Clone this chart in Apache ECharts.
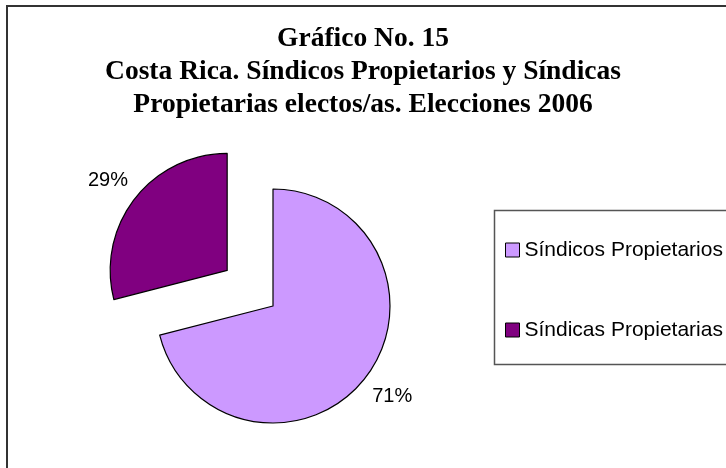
<!DOCTYPE html>
<html>
<head>
<meta charset="utf-8">
<title>Gráfico No. 15</title>
<script src="https://cdn.jsdelivr.net/npm/echarts@6/dist/echarts.min.js"></script>
<style>
    html, body { margin: 0; padding: 0; background: #fff; }
    #chart { width: 726px; height: 468px; }
</style>
</head>
<body>
<div id="chart"></div>
<script>
// datos del gráfico
var categorias = ['Síndicos Propietarios', 'Síndicas Propietarias'];
var valores = [71, 29];
var colores = ['#CC99FF', '#800080'];
var tituloLineas = [
    'Gráfico No. 15',
    'Costa Rica. Síndicos Propietarios y Síndicas',
    'Propietarias electos/as. Elecciones 2006'
];

var myChart = echarts.init(document.getElementById('chart'));

var datos = categorias.map(function (nombre, i) {
    return {
        name: nombre,
        value: valores[i],
        selected: i === 1,      // la porción de síndicas va separada
        itemStyle: { color: colores[i] }
    };
});

var option = {
    animation: false,
    title: {
        text: tituloLineas.join('\n'),
        left: 'center',
        top: 22,
        padding: 0,
        textStyle: {
            fontFamily: '"Liberation Serif", "Times New Roman", serif',
            fontWeight: 'bold',
            fontSize: 27.5,
            lineHeight: 33,
            color: '#000'
        }
    },
    // marco exterior y recuadro de la leyenda
    graphic: [
        {
            type: 'rect',
            shape: { x: 7, y: 6, width: 800, height: 600 },
            style: { fill: 'none', stroke: '#333', lineWidth: 2 },
            silent: true
        },
        {
            type: 'rect',
            shape: { x: 494.5, y: 210.5, width: 300, height: 154 },
            style: { fill: 'none', stroke: '#555', lineWidth: 1.5 },
            silent: true
        }
    ],
    legend: {
        orient: 'vertical',
        left: 505,
        top: 238,
        padding: 0,
        itemWidth: 14,
        itemHeight: 14,
        itemGap: 56,
        icon: 'rect',
        selectedMode: false,
        itemStyle: { borderColor: '#000', borderWidth: 1 },
        textStyle: {
            fontFamily: '"Liberation Sans", Arial, sans-serif',
            fontSize: 21,
            lineHeight: 24,
            color: '#000'
        },
        data: categorias
    },
    series: [
        {
            type: 'pie',
            center: [273, 306],
            radius: 117,
            startAngle: 90,
            clockwise: true,
            selectedMode: 'single',
            selectedOffset: 58,
            avoidLabelOverlap: false,
            emphasis: { disabled: true },
            itemStyle: { borderColor: '#000', borderWidth: 1.2 },
            select: { itemStyle: { borderColor: '#000', borderWidth: 1.2 } },
            label: {
                show: true,
                position: 'outside',
                formatter: '{d}%',
                fontFamily: '"Liberation Sans", Arial, sans-serif',
                fontSize: 20,
                color: '#000'
            },
            labelLine: { show: false, length: 30, length2: -22 },
            data: datos
        }
    ]
};
myChart.setOption(option);
</script>
</body>
</html>
